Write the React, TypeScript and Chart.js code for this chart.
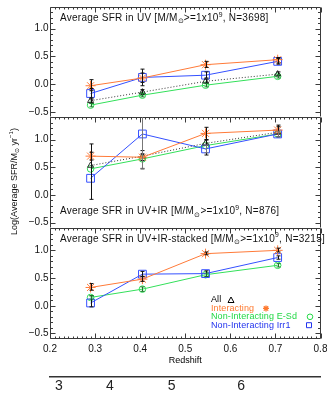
import React, { useEffect, useRef } from 'react';
import { Chart, registerables } from 'chart.js';

Chart.register(...registerables);

// ---------------- data ----------------
const redshift = [0.29, 0.405, 0.545, 0.705];

const xTickValues = [0.2, 0.3, 0.4, 0.5, 0.6, 0.7, 0.8];
const yTickValues = [-0.5, 0.0, 0.5, 1.0];
const lookbackLabels = ['3', '4', '5', '6'];
const lookbackRedshift = [0.22, 0.333, 0.47, 0.624];

type Err = [number, number] | null;

// Panel 1: UV
const uvAll = [-0.30, -0.145, 0.05, 0.18];
const uvAllErr: Err[] = [[-0.35, -0.25], [-0.19, -0.10], [0.02, 0.09], [0.15, 0.22]];
const uvInteracting = [-0.03, 0.11, 0.35, 0.44];
const uvInteractingErr: Err[] = [[-0.12, 0.08], [-0.03, 0.27], [0.30, 0.41], [0.38, 0.48]];
const uvEsd = [-0.38, -0.20, -0.02, 0.14];
const uvEsdErr: Err[] = [[-0.41, -0.35], [-0.23, -0.17], [-0.05, 0.01], [0.11, 0.17]];
const uvIrr1 = [-0.17, 0.12, 0.16, 0.41];
const uvIrr1Err: Err[] = [[-0.27, -0.08], [0.03, 0.20], [0.11, 0.22], [0.36, 0.46]];

// Panel 2: UV+IR
const irAll = [0.53, 0.70, 0.93, 1.13];
const irAllErr: Err[] = [[-0.08, 0.92], [0.47, 0.80], [0.72, 0.99], [1.05, 1.23]];
const irInteracting = [0.70, 0.68, 1.11, 1.17];
const irInteractingErr: Err[] = [[0.63, 0.77], [0.62, 0.74], [1.00, 1.22], [1.10, 1.26]];
const irEsd = [0.47, 0.65, 0.89, 1.10];
const irEsdErr: Err[] = [null, null, null, null];
const irIrr1 = [0.30, 1.10, 0.83, 1.10];
const irIrr1Err: Err[] = [null, [0.48, 1.75], [0.76, 0.90], [1.05, 1.15]];

// Panel 3: UV+IR-stacked
const stInteracting = [0.33, 0.48, 0.94, 1.00];
const stInteractingErr: Err[] = [[0.28, 0.40], [0.44, 0.53], [0.92, 0.97], [0.97, 1.04]];
const stEsd = [0.15, 0.30, 0.56, 0.73];
const stEsdErr: Err[] = [[0.12, 0.18], [0.26, 0.34], [0.53, 0.59], [0.70, 0.76]];
const stIrr1 = [0.05, 0.57, 0.58, 0.87];
const stIrr1Err: Err[] = [[-0.02, 0.18], [0.53, 0.62], [0.53, 0.63], [0.84, 0.90]];

type Seg = { t: string; s?: 'sub' | 'sup' };
const panelTitles: Seg[][] = [
  [{ t: 'Average SFR in UV [M/M' }, { t: '⊙', s: 'sub' }, { t: '>=1x10' }, { t: '9', s: 'sup' }, { t: ', N=3698]' }],
  [{ t: 'Average SFR in UV+IR [M/M' }, { t: '⊙', s: 'sub' }, { t: '>=1x10' }, { t: '9', s: 'sup' }, { t: ', N=876]' }],
  [{ t: 'Average SFR in UV+IR-stacked [M/M' }, { t: '⊙', s: 'sub' }, { t: '>=1x10' }, { t: '9', s: 'sup' }, { t: ', N=3215]' }],
];
const yTitle: Seg[] = [{ t: 'Log(Average SFR/M' }, { t: '⊙', s: 'sub' }, { t: ' yr' }, { t: '−1', s: 'sup' }, { t: ')' }];
const legendLabels = ['All', 'Interacting', 'Non-Interacting E-Sd', 'Non-Interacting Irr1'];

// ---------------- styles ----------------
const FONT = "'Liberation Sans', Arial, sans-serif";
const ORANGE = '#ff7a38';
const GREEN = '#33e05a';
const BLUE = '#3450ff';
const BLACK = '#333333';
const legendColors = ['#000000', '#ff7a30', '#22d845', '#2233ee'];

function series(axis: string, label: string, values: number[], errs: Err[] | null, color: string,
  style: string, radius: number, errColor: string, dash: number[] = []) {
  return {
    label,
    data: redshift.map((x, i) => ({ x, y: values[i] })),
    xAxisID: 'x',
    yAxisID: axis,
    borderColor: color,
    backgroundColor: 'rgba(0,0,0,0)',
    borderWidth: 1,
    borderDash: dash,
    pointStyle: style,
    pointRadius: radius,
    pointHoverRadius: radius,
    pointBorderColor: color,
    pointBackgroundColor: 'rgba(0,0,0,0)',
    pointBorderWidth: 1,
    tension: 0,
    fill: false,
    errs,
    errColor,
  };
}

function setFont(ctx: CanvasRenderingContext2D, size: number, spacing: number) {
  ctx.font = `${size}px ${FONT}`;
  (ctx as any).letterSpacing = `${spacing}px`;
}

function richWidth(ctx: CanvasRenderingContext2D, segs: Seg[], size: number, spacing: number) {
  let w = 0;
  for (const sg of segs) {
    setFont(ctx, sg.s ? size * 0.68 : size, spacing);
    w += ctx.measureText(sg.t).width;
  }
  return w;
}

function drawRich(ctx: CanvasRenderingContext2D, segs: Seg[], x: number, y: number, size: number,
  color: string, spacing: number) {
  ctx.save();
  ctx.fillStyle = color;
  ctx.textBaseline = 'middle';
  ctx.textAlign = 'left';
  let cx = x;
  for (const sg of segs) {
    const fs = sg.s ? size * 0.68 : size;
    setFont(ctx, fs, spacing);
    const dy = sg.s === 'sup' ? -size * 0.38 : sg.s === 'sub' ? size * 0.3 : 0;
    ctx.fillText(sg.t, cx, y + dy);
    cx += ctx.measureText(sg.t).width;
  }
  ctx.restore();
}

const errorBarPlugin = {
  id: 'errbars',
  afterDatasetsDraw(chart: any) {
    const ctx: CanvasRenderingContext2D = chart.ctx;
    const ca = chart.chartArea;
    chart.data.datasets.forEach((ds: any, di: number) => {
      if (!ds.errs) return;
      const ys = chart.scales[ds.yAxisID];
      const meta = chart.getDatasetMeta(di);
      ctx.save();
      ctx.beginPath();
      ctx.rect(ca.left, ys.top, ca.right - ca.left, ys.bottom - ys.top);
      ctx.clip();
      ctx.strokeStyle = ds.errColor;
      ctx.lineWidth = 1;
      ds.errs.forEach((e: Err, i: number) => {
        if (!e) return;
        const px = Math.round(meta.data[i].x) + 0.5;
        const p1 = ys.getPixelForValue(e[0]);
        const p2 = ys.getPixelForValue(e[1]);
        ctx.beginPath();
        ctx.moveTo(px, p1); ctx.lineTo(px, p2);
        ctx.moveTo(px - 2, p1); ctx.lineTo(px + 2, p1);
        ctx.moveTo(px - 2, p2); ctx.lineTo(px + 2, p2);
        ctx.stroke();
      });
      ctx.restore();
    });
  },
};

const framePlugin = {
  id: 'frame',
  afterDatasetsDraw(chart: any) {
    const ctx: CanvasRenderingContext2D = chart.ctx;
    const ca = chart.chartArea;
    const xs = chart.scales.x;
    ctx.save();
    ctx.strokeStyle = '#3a3a3a';
    ctx.lineWidth = 1;
    const L = Math.round(ca.left) + 0.5;
    const R = Math.round(ca.right) - 0.5;
    ['y1', 'y2', 'y3'].forEach((id, k) => {
      const ys = chart.scales[id];
      const T = Math.round(ys.top) + 0.5;
      const B = Math.round(ys.bottom) - 0.5;
      ctx.beginPath();
      ctx.moveTo(L, T); ctx.lineTo(R, T);
      ctx.moveTo(L, T); ctx.lineTo(L, B);
      ctx.moveTo(R, T); ctx.lineTo(R, B);
      if (k === 2) { ctx.moveTo(L, B); ctx.lineTo(R, B); }
      for (let n = Math.ceil(ys.min * 10 - 1e-6); n <= Math.floor(ys.max * 10 + 1e-6); n++) {
        const py = Math.round(ys.getPixelForValue(n / 10)) + 0.5;
        if (py <= T + 1 || py >= B - 1) continue;
        const len = n % 5 === 0 ? 5 : 2.5;
        ctx.moveTo(L, py); ctx.lineTo(L + len, py);
        ctx.moveTo(R, py); ctx.lineTo(R - len, py);
      }
      for (let n = 20; n <= 80; n++) {
        const px = Math.round(xs.getPixelForValue(n / 100)) + 0.5;
        const len = n % 10 === 0 ? 5 : 2;
        ctx.moveTo(px, T); ctx.lineTo(px, T + len);
        if (k === 2) { ctx.moveTo(px, B); ctx.lineTo(px, B - len); }
      }
      ctx.stroke();
    });
    ctx.restore();
  },
};

const textPlugin = {
  id: 'texts',
  afterDraw(chart: any) {
    const ctx: CanvasRenderingContext2D = chart.ctx;
    const ca = chart.chartArea;
    const y1 = chart.scales.y1, y2 = chart.scales.y2, y3 = chart.scales.y3;
    const tx = ca.left + 10;
    drawRich(ctx, panelTitles[0], tx, y1.top + 12, 10, '#111', 0.25);
    drawRich(ctx, panelTitles[1], tx, y2.bottom - 16.5, 10, '#111', 0.25);
    drawRich(ctx, panelTitles[2], tx, y3.top + 11, 10, '#111', 0.25);

    // y axis title (rotated)
    ctx.save();
    ctx.translate(15, 181.5);
    ctx.rotate(-Math.PI / 2);
    const w = richWidth(ctx, yTitle, 9, 0);
    drawRich(ctx, yTitle, -w / 2, 0, 9, '#111', 0);
    ctx.restore();

    // legend
    const lx = ca.left + 161;
    const ly0 = y3.bottom - 39;
    const step = 8.4;
    const symX = [lx + 20, lx + 55, lx + 99, lx + 98];
    legendLabels.forEach((lab, i) => {
      const yy = ly0 + i * step;
      ctx.save();
      ctx.fillStyle = legendColors[i];
      setFont(ctx, 9, 0.1);
      ctx.textBaseline = 'middle';
      ctx.textAlign = 'left';
      ctx.fillText(lab, lx, yy);
      ctx.strokeStyle = legendColors[i];
      ctx.lineWidth = 1;
      const sx = symX[i];
      ctx.beginPath();
      if (i === 0) {
        ctx.moveTo(sx, yy - 3); ctx.lineTo(sx + 3, yy + 2.5); ctx.lineTo(sx - 3, yy + 2.5); ctx.closePath();
      } else if (i === 1) {
        ctx.lineWidth = 1.3;
        ctx.moveTo(sx - 3, yy); ctx.lineTo(sx + 3, yy);
        ctx.moveTo(sx, yy - 3); ctx.lineTo(sx, yy + 3);
        ctx.moveTo(sx - 2.2, yy - 2.2); ctx.lineTo(sx + 2.2, yy + 2.2);
        ctx.moveTo(sx - 2.2, yy + 2.2); ctx.lineTo(sx + 2.2, yy - 2.2);
      } else if (i === 2) {
        ctx.arc(sx, yy, 2.8, 0, Math.PI * 2);
      } else {
        ctx.rect(sx - 2.5, yy - 2.5, 5, 5);
      }
      ctx.stroke();
      ctx.restore();
    });
  },
};

function yAxis(weight: number) {
  return {
    type: 'linear' as const,
    position: 'left' as const,
    stack: 'panels',
    stackWeight: 1,
    weight,
    min: -0.6,
    max: 1.4,
    grid: { display: false, drawTicks: false },
    border: { display: false },
    afterBuildTicks: (s: any) => { s.ticks = yTickValues.map((v) => ({ value: v })); },
    afterFit: (s: any) => { s.width = 50; s.paddingTop = 0; s.paddingBottom = 0; },
    ticks: {
      padding: 1.5,
      color: '#111',
      font: { family: FONT, size: 10 },
      callback: (v: any) => (Number(v) < 0 ? '−' + Math.abs(Number(v)).toFixed(1) : Number(v).toFixed(1)),
    },
  };
}

export default function App() {
  const ref = useRef<HTMLCanvasElement | null>(null);
  useEffect(() => {
    document.body.style.margin = '0';
    document.body.style.overflow = 'hidden';
    const canvas = ref.current!;
    const chart = new Chart(canvas, {
      type: 'line',
      data: {
        datasets: [
          series('y1', 'Interacting', uvInteracting, uvInteractingErr, ORANGE, 'star', 5, '#111'),
          series('y1', 'All', uvAll, uvAllErr, BLACK, 'triangle', 3.5, '#111', [1, 2]),
          series('y1', 'Non-Interacting Irr1', uvIrr1, uvIrr1Err, BLUE, 'rect', 5.5, '#111'),
          series('y1', 'Non-Interacting E-Sd', uvEsd, uvEsdErr, GREEN, 'circle', 3.3, '#1a7a2a'),
          series('y2', 'Interacting', irInteracting, irInteractingErr, ORANGE, 'star', 5, '#111'),
          series('y2', 'All', irAll, irAllErr, BLACK, 'triangle', 3.5, '#111', [1, 2]),
          series('y2', 'Non-Interacting Irr1', irIrr1, irIrr1Err, BLUE, 'rect', 5.5, '#777'),
          series('y2', 'Non-Interacting E-Sd', irEsd, irEsdErr, GREEN, 'circle', 3.3, '#1a7a2a'),
          series('y3', 'Interacting', stInteracting, stInteractingErr, ORANGE, 'star', 5, '#111'),
          series('y3', 'Non-Interacting Irr1', stIrr1, stIrr1Err, BLUE, 'rect', 5.5, '#111'),
          series('y3', 'Non-Interacting E-Sd', stEsd, stEsdErr, GREEN, 'circle', 3.3, '#1a7a2a'),
        ] as any,
      },
      options: {
        animation: false,
        responsive: false,
        devicePixelRatio: 1,
        events: [],
        layout: { padding: { left: 0, right: 1, top: 4, bottom: 0 } },
        plugins: { legend: { display: false }, tooltip: { enabled: false }, title: { display: false } },
        scales: {
          x: {
            type: 'linear',
            position: 'bottom',
            weight: 0,
            min: 0.2,
            max: 0.8,
            grid: { display: false, drawTicks: false },
            border: { display: false },
            afterBuildTicks: (s: any) => { s.ticks = xTickValues.map((v) => ({ value: v })); },
            afterFit: (s: any) => { s.height = 38; s.paddingLeft = 0; s.paddingRight = 0; },
            ticks: {
              padding: 4,
              autoSkip: false,
              maxRotation: 0,
              color: '#111',
              font: { family: FONT, size: 10 },
              callback: (v: any) => Number(v).toFixed(1),
            },
            title: {
              display: true,
              text: 'Redshift',
              color: '#000',
              font: { family: FONT, size: 9 },
              padding: { top: 0, bottom: 11 },
            },
          },
          xLB: {
            type: 'linear',
            position: 'bottom',
            weight: 1,
            min: 0.2,
            max: 0.8,
            grid: { display: false, drawTicks: false },
            border: { display: true, color: '#333', width: 1.5 },
            afterBuildTicks: (s: any) => { s.ticks = lookbackRedshift.map((v) => ({ value: v })); },
            afterFit: (s: any) => { s.height = 18; s.paddingLeft = 0; s.paddingRight = 0; },
            ticks: {
              padding: 1,
              autoSkip: false,
              maxRotation: 0,
              color: '#222',
              font: { family: FONT, size: 14 },
              callback: (_v: any, i: number) => lookbackLabels[i],
            },
          },
          y1: yAxis(3),
          y2: yAxis(2),
          y3: yAxis(1),
        } as any,
      },
      plugins: [framePlugin, errorBarPlugin, textPlugin],
    });
    return () => chart.destroy();
  }, []);
  return (
    <div style={{ position: 'fixed', left: 0, top: 0, width: 327, height: 395, background: '#fff' }}>
      <canvas ref={ref} width={327} height={395} style={{ display: 'block', width: 327, height: 395 }} />
    </div>
  );
}
